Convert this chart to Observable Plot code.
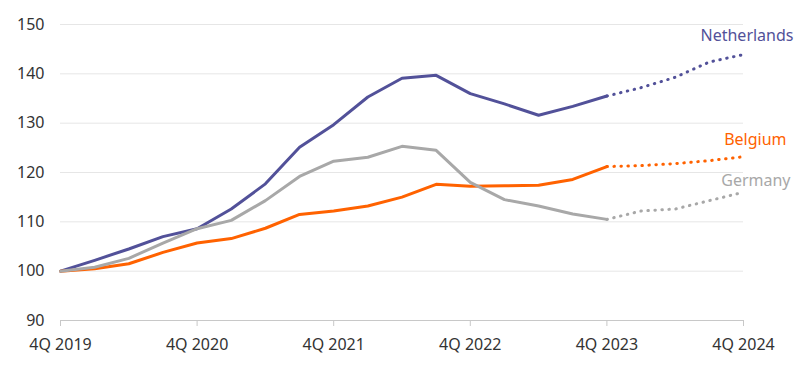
<!DOCTYPE html>
<html>
<head>
<meta charset="utf-8">
<script src="https://cdn.jsdelivr.net/npm/d3@7"></script>
<script src="https://cdn.jsdelivr.net/npm/@observablehq/plot@0.6"></script>
<style>
  html, body { margin: 0; padding: 0; background: #fff; }
  #chart { width: 800px; height: 368px; }
</style>
</head>
<body>
<div id="chart"></div>
<script>
const quarters = ["4Q 2019","1Q 2020","2Q 2020","3Q 2020","4Q 2020","1Q 2021","2Q 2021","3Q 2021","4Q 2021","1Q 2022","2Q 2022","3Q 2022","4Q 2022","1Q 2023","2Q 2023","3Q 2023","4Q 2023","1Q 2024","2Q 2024","3Q 2024","4Q 2024"];
const netherlands = [100,102.2,104.5,107.0,108.6,112.6,117.7,125.1,129.7,135.3,139.1,139.7,136.0,133.9,131.6,133.4,135.5,137.2,139.3,142.4,143.9];
const belgium     = [100,100.5,101.5,103.8,105.7,106.6,108.7,111.5,112.2,113.2,115.0,117.6,117.2,117.3,117.4,118.6,121.2,121.4,121.8,122.4,123.2];
const germany     = [100,100.8,102.6,105.7,108.6,110.3,114.3,119.2,122.3,123.1,125.3,124.5,118.0,114.5,113.2,111.6,110.5,112.2,112.6,114.3,116.0];
const lastActual = "4Q 2023";
const yTicks = [90,100,110,120,130,140,150];
const xTickLabels = ["4Q 2019","4Q 2020","4Q 2021","4Q 2022","4Q 2023","4Q 2024"];

const seriesNames = ["Netherlands","Belgium","Germany"];
const seriesValues = [netherlands, belgium, germany];
const colors = {Netherlands: "#525199", Belgium: "#FF6200", Germany: "#A8A8A8"};

const cut = quarters.indexOf(lastActual);
const rows = [];
seriesNames.forEach((name, s) => {
  seriesValues[s].forEach((v, i) => rows.push({name, i, q: quarters[i], v}));
});
const actual = rows.filter(d => d.i <= cut);
const forecast = rows.filter(d => d.i >= cut);
const lastPts = rows.filter(d => d.i === quarters.length - 1);
const tickIdx = xTickLabels.map(l => quarters.indexOf(l));

const font = "'Noto Sans', sans-serif";

const chart = Plot.plot({
  width: 800,
  height: 368,
  marginLeft: 60,
  marginRight: 57,
  marginTop: 24,
  marginBottom: 48,
  style: {fontFamily: font, fontSize: "16px", color: "#333", background: "#fff"},
  x: {type: "linear", domain: [0, quarters.length - 1], label: null},
  y: {domain: [90, 150], label: null},
  marks: [
    Plot.ruleY(yTicks.filter(t => t > 90), {stroke: "#e6e6e6", strokeWidth: 1}),
    Plot.ruleY([90], {stroke: "#c8c8c8", strokeWidth: 1}),
    Plot.axisY({ticks: yTicks, tickSize: 0, tickPadding: 16, fontSize: 16, fill: "#333"}),
    Plot.axisX({ticks: tickIdx, tickFormat: i => quarters[i], tickSize: 6, tickPadding: 12, stroke: "#c8c8c8", fontSize: 16, fill: "#333"}),
    Plot.line(actual, {x: "i", y: "v", z: "name", stroke: d => colors[d.name], strokeWidth: 3, strokeLinejoin: "round"}),
    Plot.line(forecast, {x: "i", y: "v", z: "name", stroke: d => colors[d.name], strokeWidth: 3, strokeLinecap: "round", strokeDasharray: "0.5 6.5"}),
    Plot.text(lastPts.filter(d => d.name === "Netherlands"), {x: "i", y: "v", text: "name", fill: colors.Netherlands, textAnchor: "end", dx: 50, dy: -19, fontSize: 16}),
    Plot.text(lastPts.filter(d => d.name === "Belgium"), {x: "i", y: "v", text: "name", fill: colors.Belgium, textAnchor: "end", dx: 43, dy: -17, fontSize: 16}),
    Plot.text(lastPts.filter(d => d.name === "Germany"), {x: "i", y: "v", text: "name", fill: colors.Germany, textAnchor: "end", dx: 47, dy: -11, fontSize: 16})
  ]
});
document.getElementById("chart").appendChild(chart);
</script>
</body>
</html>
